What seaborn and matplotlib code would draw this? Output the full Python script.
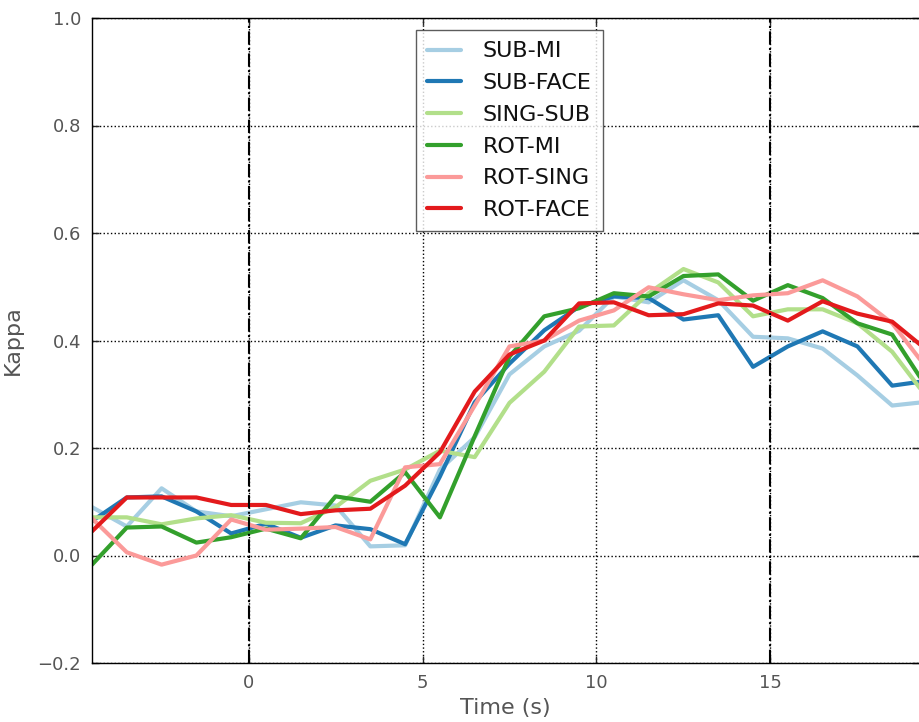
import numpy as np
import pandas as pd
import matplotlib
matplotlib.use("Agg")
import matplotlib.pyplot as plt
import seaborn as sns

# time points (s)
time = [-4.5, -3.5, -2.5, -1.5, -0.5, 0.5, 1.5, 2.5, 3.5, 4.5, 5.5, 6.5, 7.5,
        8.5, 9.5, 10.5, 11.5, 12.5, 13.5, 14.5, 15.5, 16.5, 17.5, 18.5, 19.5]

sub_mi = [0.090, 0.054, 0.125, 0.082, 0.073, 0.086, 0.099, 0.093, 0.017, 0.019,
          0.160, 0.220, 0.337, 0.389, 0.418, 0.482, 0.471, 0.512, 0.475, 0.407,
          0.404, 0.385, 0.335, 0.279, 0.286]
sub_face = [0.064, 0.108, 0.110, 0.082, 0.041, 0.059, 0.033, 0.056, 0.049, 0.021,
            0.147, 0.285, 0.357, 0.419, 0.463, 0.482, 0.479, 0.439, 0.447, 0.351,
            0.389, 0.417, 0.389, 0.316, 0.325]
sing_sub = [0.071, 0.071, 0.058, 0.069, 0.075, 0.061, 0.060, 0.090, 0.139, 0.160,
            0.195, 0.183, 0.284, 0.342, 0.426, 0.428, 0.488, 0.533, 0.508, 0.445,
            0.458, 0.458, 0.432, 0.379, 0.294]
rot_mi = [-0.017, 0.052, 0.054, 0.024, 0.034, 0.050, 0.032, 0.110, 0.100, 0.155,
          0.071, 0.222, 0.370, 0.445, 0.460, 0.488, 0.482, 0.520, 0.523, 0.474,
          0.503, 0.479, 0.432, 0.411, 0.312]
rot_sing = [0.069, 0.006, -0.017, 0.000, 0.067, 0.048, 0.050, 0.053, 0.030, 0.164,
            0.170, 0.279, 0.389, 0.400, 0.437, 0.456, 0.499, 0.486, 0.475, 0.484,
            0.488, 0.512, 0.482, 0.432, 0.348]
rot_face = [0.045, 0.108, 0.108, 0.108, 0.094, 0.094, 0.077, 0.084, 0.087, 0.130,
            0.192, 0.305, 0.374, 0.400, 0.469, 0.471, 0.447, 0.449, 0.469, 0.465,
            0.437, 0.473, 0.450, 0.435, 0.382]

names = ["SUB-MI", "SUB-FACE", "SING-SUB", "ROT-MI", "ROT-SING", "ROT-FACE"]
series = [sub_mi, sub_face, sing_sub, rot_mi, rot_sing, rot_face]
colors = ["#a6cee3", "#1f78b4", "#b2df8a", "#33a02c", "#fb9a99", "#e31a1c"]

df = pd.concat([pd.DataFrame({"time": time, "kappa": s, "cond": n})
                for n, s in zip(names, series)], ignore_index=True)

sns.set_style("ticks")
plt.rcParams["font.family"] = ["DejaVu Sans"]

fig = plt.figure(figsize=(9.19, 7.22), dpi=100)
ax = fig.add_axes([92 / 919, 59 / 722, 1 - 92 / 919, 645 / 722])

sns.lineplot(data=df, x="time", y="kappa", hue="cond", hue_order=names,
             palette=colors, linewidth=3, ax=ax, legend=False)

ax.axvline(0, color="black", linestyle="-.", linewidth=1.5)
ax.axvline(15, color="black", linestyle="-.", linewidth=1.5)

ax.set_xlim(-4.5, 19.27)
ax.set_ylim(-0.2, 1.0)
ax.set_xticks([0, 5, 10, 15])
ax.set_yticks([-0.2, 0.0, 0.2, 0.4, 0.6, 0.8, 1.0])
ax.set_yticklabels(["\u22120.2", "0.0", "0.2", "0.4", "0.6", "0.8", "1.0"])
ax.grid(True, color="black", linestyle=":", linewidth=1)
ax.set_axisbelow(True)

ax.tick_params(direction="in", top=True, right=True, length=5, width=1,
               labelsize=13, labelcolor="#555555", pad=8)
for sp in ax.spines.values():
    sp.set_color("black")
    sp.set_linewidth(1)
ax.spines["right"].set_visible(False)

ax.set_xlabel("Time (s)", fontsize=16, color="#555555", labelpad=4)
ax.set_ylabel("Kappa", fontsize=16, color="#555555", labelpad=10)

handles = [plt.Line2D([], [], color=c, linewidth=3) for c in colors]
leg = ax.legend(handles, names, loc="upper center", bbox_to_anchor=(0.505, 0.981),
                borderaxespad=0, fontsize=16, frameon=True, fancybox=False,
                handlelength=1.5, handletextpad=1.0, borderpad=0.5,
                labelspacing=0.53)
leg.get_frame().set_edgecolor("#333333")
leg.get_frame().set_linewidth(1)
for t in leg.get_texts():
    t.set_color("#111111")

fig.savefig("out.png", dpi=100)
